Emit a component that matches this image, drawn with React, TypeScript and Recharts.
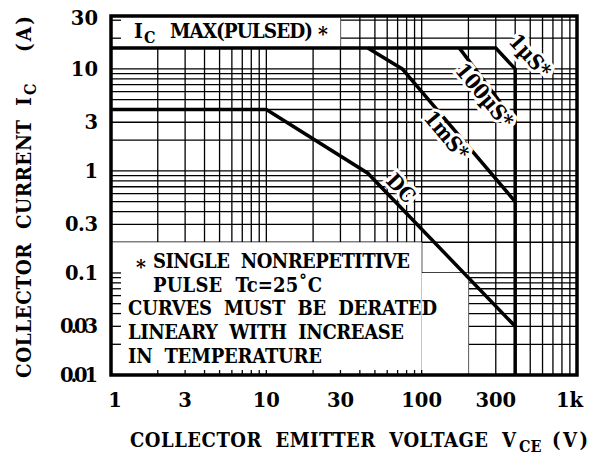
import React from "react";
import {
  CartesianGrid,
  Line,
  LineChart,
  ReferenceArea,
  ReferenceDot,
  XAxis,
  YAxis,
} from "recharts";

const FONT = "'DejaVu Serif', serif";
const FONT_NARROW = "'DejaVu Serif Condensed', 'DejaVu Serif', serif";

// grid lines (every step of each decade) and the labelled ticks
const X_GRID = [
  1, 2, 3, 4, 5, 6, 7, 8, 9, 10, 20, 30, 40, 50, 60, 70, 80, 90, 100, 200,
  300, 400, 500, 600, 700, 800, 900, 1000,
];
const X_LABELS = [1, 3, 10, 30, 100, 300, 1000];
const Y_GRID = [
  0.01, 0.02, 0.03, 0.04, 0.05, 0.06, 0.07, 0.08, 0.09, 0.1, 0.2, 0.3, 0.4,
  0.5, 0.6, 0.7, 0.8, 0.9, 1, 2, 3, 4, 5, 6, 7, 8, 9, 10, 20, 30,
];
const Y_LABELS = [0.01, 0.03, 0.1, 0.3, 1, 3, 10, 30];

// safe operating area boundaries: v = VCE (V), i = IC (A)
const PULSE_1US = [
  { v: 1, i: 16 },
  { v: 300, i: 16 },
  { v: 400, i: 10 },
  { v: 400, i: 0.01 },
];
const PULSE_100US = [
  { v: 175, i: 16 },
  { v: 400, i: 3 },
];
const PULSE_1MS = [
  { v: 45, i: 16 },
  { v: 75, i: 10 },
  { v: 400, i: 0.5 },
];
const DC = [
  { v: 1, i: 4 },
  { v: 10, i: 4 },
  { v: 45, i: 0.95 },
  { v: 400, i: 0.03 },
];

// where each curve is named
const CURVE_LABELS = [
  { text: "1µS*", v: 500, i: 13.5, angle: 48 },
  { text: "100µS*", v: 255, i: 5.5, angle: 50 },
  { text: "1mS*", v: 145, i: 2.25, angle: 50 },
  { text: "DC", v: 74, i: 0.68, angle: 47 },
];

const NOTE_LINES = [
  { text: "SINGLE  NONREPETITIVE", x: 153, len: 257 },
  { text: "PULSE  Tc=25˚C", x: 153, len: 169 },
  { text: "CURVES  MUST  BE  DERATED", x: 128, len: 309 },
  { text: "LINEARY  WITH  INCREASE", x: 128, len: 276 },
  { text: "IN  TEMPERATURE", x: 128, len: 194 },
];

const bold = {
  fontFamily: FONT,
  fontWeight: 700,
  fill: "#000",
  whiteSpace: "pre" as const,
};
const boldNarrow = { ...bold, fontFamily: FONT_NARROW };

function XTick({ x, y, payload }: any) {
  const v = payload.value;
  const label = X_LABELS.includes(v);
  return (
    <g>
      {v > 1 && v < 200 && (
        <line x1={x} x2={x} y1={y} y2={y - 5} stroke="#000" strokeWidth={1.3} />
      )}
      {label && (
        <text
          x={v === 1000 ? x + 6 : v === 1 ? x + 4 : x}
          y={y + 32}
          textAnchor={v === 1000 ? "end" : "middle"}
          fontSize={19.5}
          style={bold}
        >
          {v === 1000 ? "1k" : v}
        </text>
      )}
    </g>
  );
}

function YTick({ x, y, payload }: any) {
  const v = payload.value;
  const label = Y_LABELS.includes(v);
  const text = String(v);
  const decimal = text.includes(".");
  return (
    <g>
      {(v < 0.2 || v >= 20) && v > 0.01 && (
        <line x1={x} x2={x + 10} y1={y} y2={y} stroke="#000" strokeWidth={1.3} />
      )}
      {label && (
        <text
          x={x - 13}
          y={v === 30 ? y - 2 : y}
          dy="0.36em"
          textAnchor="end"
          fontSize={19.5}
          textLength={decimal ? (text.length === 4 ? 38 : 33) : undefined}
          style={bold}
        >
          {text}
        </text>
      )}
    </g>
  );
}

function curveLabel(text: string, angle: number) {
  return ({ viewBox }: any) => {
    const cx = viewBox.x + viewBox.width / 2;
    const cy = viewBox.y + viewBox.height / 2;
    return (
      <text
        x={cx}
        y={cy}
        dy="0.36em"
        textAnchor="middle"
        transform={`rotate(${angle} ${cx} ${cy})`}
        fontSize={21}
        stroke="#fff"
        strokeWidth={6}
        paintOrder="stroke"
        style={boldNarrow}
      >
        {text}
      </text>
    );
  };
}

function Texts() {
  return (
    <svg
      width={595}
      height={467}
      style={{ position: "absolute", left: 0, top: 0, pointerEvents: "none" }}
    >
      {/* pulsed current limit */}
      <text x={134} y={38} fontSize={21} style={boldNarrow}>I</text>
      <text x={144} y={43} fontSize={16} style={boldNarrow}>C</text>
      <text x={170} y={38} fontSize={20.5} textLength={143} style={boldNarrow}>
        MAX(PULSED)
      </text>
      <text x={318} y={41} fontSize={21} style={boldNarrow}>*</text>

      {/* notes */}
      <text x={136} y={274} fontSize={21} style={boldNarrow}>*</text>
      {NOTE_LINES.map((line, k) => (
        <text
          key={line.text}
          x={line.x}
          y={268 + k * 23.7}
          fontSize={20}
          textLength={line.len}
          style={boldNarrow}
        >
          {line.text}
        </text>
      ))}

      {/* axis titles */}
      <g transform="rotate(-90 31 378)">
        <text x={31} y={378} fontSize={20.5} textLength={281} style={boldNarrow}>
          {"COLLECTOR  CURRENT  I"}
        </text>
        <text x={314} y={383} fontSize={16} style={boldNarrow}>C</text>
        <text x={357} y={378} fontSize={20.5} textLength={36} style={boldNarrow}>
          (A)
        </text>
      </g>
      <text x={130} y={447} fontSize={20} textLength={386} style={boldNarrow}>
        {"COLLECTOR  EMITTER  VOLTAGE  V"}
      </text>
      <text x={519} y={452} fontSize={16} style={boldNarrow}>CE</text>
      <text x={552} y={447} fontSize={20} textLength={36} style={boldNarrow}>
        (V)
      </text>
    </svg>
  );
}

export default function App() {
  return (
    <div style={{ position: "absolute", left: 0, top: 0, background: "#fff" }}>
      <LineChart
        width={595}
        height={467}
        margin={{ top: 16, right: 18, bottom: 0, left: 0 }}
      >
        <CartesianGrid stroke="#000" strokeWidth={1.3} />
        <XAxis
          dataKey="v"
          type="number"
          scale="log"
          domain={[1, 1000]}
          allowDataOverflow
          ticks={X_GRID}
          interval={0}
          tickLine={false}
          tickSize={0}
          tickMargin={0}
          axisLine={false}
          height={92}
          tick={<XTick />}
        />
        <YAxis
          type="number"
          scale="log"
          domain={[0.01, 33]}
          allowDataOverflow
          ticks={Y_GRID}
          interval={0}
          tickLine={false}
          tickSize={0}
          tickMargin={0}
          axisLine={false}
          width={111}
          tick={<YTick />}
        />
        <ReferenceArea x1={1} x2={30} y1={16} y2={33} fill="#fff" fillOpacity={1} stroke="none" />
        <ReferenceArea x1={1} x2={100} y1={0.01} y2={0.2} fill="#fff" fillOpacity={1} stroke="none" />
        <ReferenceArea x1={100} x2={200} y1={0.01} y2={0.1} fill="#fff" fillOpacity={1} stroke="none" />
        <ReferenceArea
          x1={1}
          x2={1000}
          y1={0.01}
          y2={33}
          fill="none"
          stroke="#000"
          strokeWidth={3.5}
        />
        <Line data={PULSE_1US} dataKey="i" type="linear" stroke="#000" strokeWidth={3.5} dot={false} isAnimationActive={false} />
        <Line data={PULSE_100US} dataKey="i" type="linear" stroke="#000" strokeWidth={3.5} dot={false} isAnimationActive={false} />
        <Line data={PULSE_1MS} dataKey="i" type="linear" stroke="#000" strokeWidth={3.5} dot={false} isAnimationActive={false} />
        <Line data={DC} dataKey="i" type="linear" stroke="#000" strokeWidth={3.5} dot={false} isAnimationActive={false} />
        {CURVE_LABELS.map((c) => (
          <ReferenceDot
            key={c.text}
            x={c.v}
            y={c.i}
            r={0}
            fill="none"
            stroke="none"
            label={{ content: curveLabel(c.text, c.angle) }}
          />
        ))}
      </LineChart>
      <Texts />
    </div>
  );
}
